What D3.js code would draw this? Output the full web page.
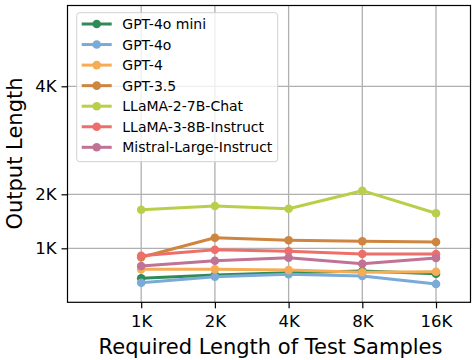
<!DOCTYPE html>
<html>
<head>
<meta charset="utf-8">
<script src="https://cdn.jsdelivr.net/npm/d3@7"></script>
<style>
  body { margin: 0; background: #fff; }
  svg { font-family: "DejaVu Sans", sans-serif; }
</style>
</head>
<body>
<svg id="chart" width="474" height="360"></svg>
<script>
// x categories (required length of test samples)
const categories = ['1K', '2K', '4K', '8K', '16K'];

// y ticks
const yTicks = [1000, 2000, 4000];
const yTickLabels = ['1K', '2K', '4K'];

// output lengths per model
const models = ['GPT-4o mini', 'GPT-4o', 'GPT-4', 'GPT-3.5', 'LLaMA-2-7B-Chat', 'LLaMA-3-8B-Instruct', 'Mistral-Large-Instruct'];
const gpt4oMini = [444, 506, 548, 580, 530];
const gpt4o = [363, 474, 519, 487, 339];
const gpt4 = [611, 611, 598, 556, 567];
const gpt35 = [833, 1196, 1148, 1130, 1117];
const llama2 = [1715, 1783, 1733, 2067, 1650];
const llama3 = [863, 974, 944, 894, 894];
const mistral = [672, 770, 826, 715, 820];
const seriesValues = [gpt4oMini, gpt4o, gpt4, gpt35, llama2, llama3, mistral];
const colors = ['#2e8b57', '#7aaad6', '#f5ac55', '#cd853f', '#b8cf49', '#ee6f6a', '#c07394'];

const svg = d3.select('#chart');
const margin = { top: 5.5, right: 3.5, bottom: 57.7, left: 67.5 };
const width = 474, height = 360;
const innerWidth = width - margin.left - margin.right;
const innerHeight = height - margin.top - margin.bottom;

// categories sit at 1..5, the left side is left open like the original
const xScale = d3.scaleLinear().domain([0, 5.468]).range([0, innerWidth]);
const yScale = d3.scaleLinear().domain([0, 5496]).range([innerHeight, 0]);

const g = svg.append('g').attr('transform', `translate(${margin.left},${margin.top})`);

// grid
g.append('g').selectAll('line').data(categories).enter().append('line')
  .attr('x1', (d, i) => xScale(i + 1)).attr('x2', (d, i) => xScale(i + 1))
  .attr('y1', 0).attr('y2', innerHeight)
  .attr('stroke', '#b0b0b0').attr('stroke-width', 1.3);
g.append('g').selectAll('line').data(yTicks).enter().append('line')
  .attr('x1', 0).attr('x2', innerWidth)
  .attr('y1', d => yScale(d)).attr('y2', d => yScale(d))
  .attr('stroke', '#b0b0b0').attr('stroke-width', 1.3);

// axes
const xAxis = g.append('g')
  .attr('transform', `translate(0,${innerHeight})`)
  .call(d3.axisBottom(xScale).tickValues([1, 2, 3, 4, 5])
    .tickFormat((d, i) => categories[i]).tickSize(6).tickPadding(7));
const yAxis = g.append('g')
  .call(d3.axisLeft(yScale).tickValues(yTicks)
    .tickFormat((d, i) => yTickLabels[i]).tickSize(6).tickPadding(5));
[xAxis, yAxis].forEach(ax => {
  ax.select('.domain').remove();
  ax.selectAll('line').attr('stroke', '#000').attr('stroke-width', 1.2);
  ax.selectAll('text').attr('font-size', '16.5px').attr('fill', '#000')
    .attr('font-family', '"DejaVu Sans", sans-serif');
});

// series
const line = d3.line().x((d, i) => xScale(i + 1)).y(d => yScale(d));
seriesValues.forEach((vals, k) => {
  g.append('path').datum(vals)
    .attr('d', line).attr('fill', 'none')
    .attr('stroke', colors[k]).attr('stroke-width', 3)
    .attr('stroke-linejoin', 'round');
  g.append('g').selectAll('circle').data(vals).enter().append('circle')
    .attr('cx', (d, i) => xScale(i + 1)).attr('cy', d => yScale(d))
    .attr('r', 4.3).attr('fill', colors[k]);
});

// frame
g.append('rect').attr('width', innerWidth).attr('height', innerHeight)
  .attr('fill', 'none').attr('stroke', '#000').attr('stroke-width', 1.2);

// legend
const legend = g.append('g').attr('transform', `translate(${76.7 - margin.left},${12.7 - margin.top})`);
legend.append('rect').attr('width', 201).attr('height', 149).attr('rx', 3)
  .attr('fill', '#fff').attr('fill-opacity', 0.8)
  .attr('stroke', '#d0d0d0').attr('stroke-width', 1);
models.forEach((m, k) => {
  const y = 11.3 + k * 20.55;
  legend.append('line').attr('x1', 5).attr('x2', 35).attr('y1', y).attr('y2', y)
    .attr('stroke', colors[k]).attr('stroke-width', 3);
  legend.append('circle').attr('cx', 20).attr('cy', y).attr('r', 4.3).attr('fill', colors[k]);
  legend.append('text').attr('x', 45.6).attr('y', y).attr('dy', '0.36em')
    .attr('font-size', '14px').attr('fill', '#000').text(m);
});

// axis labels
svg.append('text')
  .attr('transform', 'translate(270.5,354)')
  .attr('text-anchor', 'middle').attr('font-size', '21px').attr('fill', '#000')
  .text('Required Length of Test Samples');
svg.append('text')
  .attr('transform', `translate(21.5,153.5) rotate(-90)`)
  .attr('text-anchor', 'middle').attr('font-size', '21px').attr('fill', '#000')
  .text('Output Length');
</script>
</body>
</html>
